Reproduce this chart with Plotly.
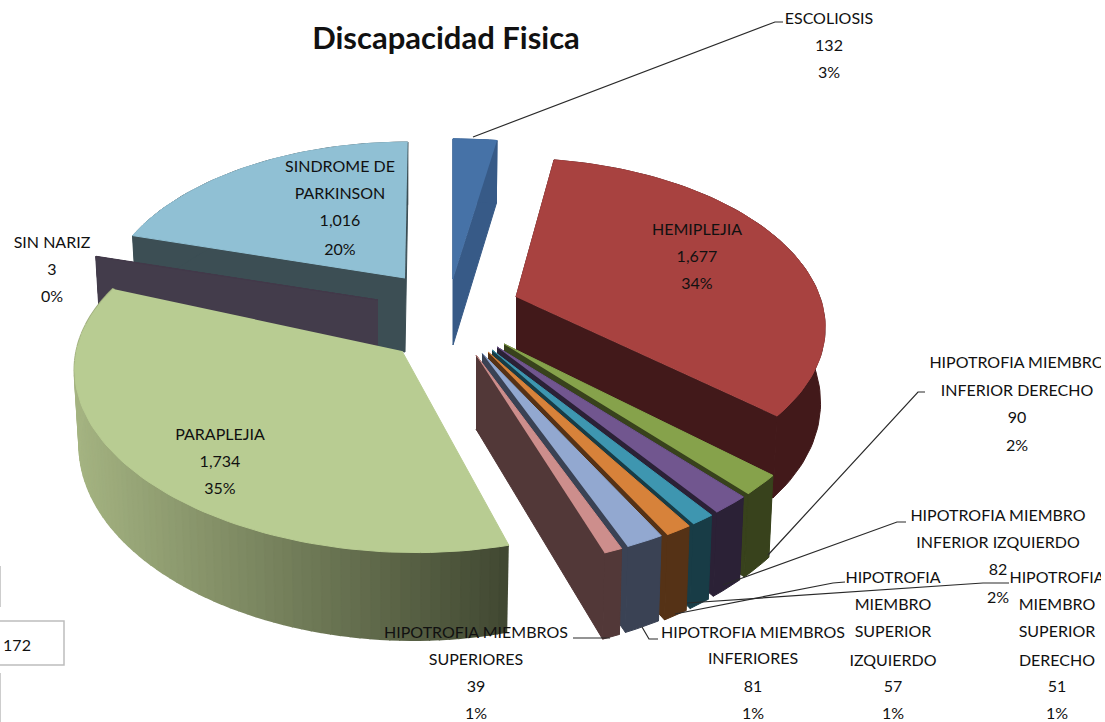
import math
import plotly.graph_objects as go

# ---- data ----
categories = ["ESCOLIOSIS", "HEMIPLEJIA", "HIPOTROFIA MIEMBRO INFERIOR DERECHO",
              "HIPOTROFIA MIEMBRO INFERIOR IZQUIERDO", "HIPOTROFIA MIEMBRO SUPERIOR DERECHO",
              "HIPOTROFIA MIEMBRO SUPERIOR IZQUIERDO", "HIPOTROFIA MIEMBROS INFERIORES",
              "HIPOTROFIA MIEMBROS SUPERIORES", "PARAPLEJIA", "SIN NARIZ", "SINDROME DE PARKINSON"]
values = [132, 1677, 90, 82, 51, 57, 81, 39, 1734, 3, 1016]
title = "Discapacidad Fisica"

# ---- style / layout of the exploded 3-D pie ----
top_colors = ["#4672A7", "#A84240", "#86A24B", "#71568F", "#3E96B0", "#D7823A",
              "#92A8D0", "#CD8E8C", "#B8CC92", "#43394A", "#90C0D4"]
wall_colors = ["#375A87", "#42191A", "#38421C", "#2B2136", "#183C46", "#553216",
               "#3A4254", "#523838", None, "#433C4B", "#3C4E54"]
apex_x = [453, 516, 504, 497, 492, 488, 482, 476, 402, 378, 405]
apex_y = [279, 297, 344, 347, 350, 352, 353, 355, 351, 300, 278]
scale = [1.0, 0.99, 1.04, 1.05, 1.05, 1.05, 1.05, 1.05, 1.04, 1.0, 0.97]
scale_y = [1.0, 1.0, 1.05, 1.04, 1.04, 1.04, 1.04, 1.04, 0.99, 1.0, 1.0]
shear = [0.0, 0.04, 0, 0, 0, 0, 0, 0, -0.11, 0, -0.02]
shear_y = [0, 0, 0, 0, 0, 0, 0, 0, 0.06, 0, 0]
apex_depth = [66, 74, 74, 74, 74, 74, 74, 74, 74, 74, 74]
draw_order = [0, 10, 9, 1, 8, 2, 3, 4, 5, 6, 7]
A, B, K, DEPTH = 307.0, 163.0, 0.163, 73.0
FONT = "Lato"


def project(theta, i):
    u, v = math.sin(theta), math.cos(theta)
    w = 1 + K * v
    y = -B * v / w * scale[i] * scale_y[i]
    x = A * u / w * scale[i]
    x, y = x + shear[i] * y, y + shear_y[i] * x
    return apex_x[i] + x, apex_y[i] + y, DEPTH / w


def poly(xs, ys, color, name, lw=1.0):
    return go.Scatter(x=xs, y=ys, mode="lines", fill="toself", fillcolor=color,
                      line=dict(color=color, width=lw), hoverinfo="skip", name=name)


total = sum(values)
starts = [sum(values[:i]) / total * 2 * math.pi for i in range(len(values))]
ends = [sum(values[:i + 1]) / total * 2 * math.pi for i in range(len(values))]

fig = go.Figure()
for i in draw_order:
    n = max(2, int((ends[i] - starts[i]) / math.radians(1.5)) + 1)
    arc = [project(starts[i] + (ends[i] - starts[i]) * k / (n - 1), i) for k in range(n)]
    ax, ay = apex_x[i], apex_y[i]
    ab = ay + apex_depth[i]
    top_x = [p[0] for p in arc]
    top_y = [p[1] for p in arc]
    bot_x = [ax + (p[0] - ax) * 0.985 for p in arc]
    bot_y = [p[1] + p[2] for p in arc]
    name = categories[i]
    wc = wall_colors[i]
    if wc:
        # radial walls, then the outer wall
        fig.add_trace(poly([ax, top_x[0], bot_x[0], ax], [ay, top_y[0], bot_y[0], ab], wc, name))
        fig.add_trace(poly([ax, top_x[-1], bot_x[-1], ax], [ay, top_y[-1], bot_y[-1], ab], wc, name))
        fig.add_trace(poly(top_x + bot_x[::-1], top_y + bot_y[::-1], wc, name))
    else:
        # outer wall shaded left to right
        for k in range(n - 1):
            t = min(1, max(0, ((top_x[k] + top_x[k + 1]) / 2 - 75) / 433))
            c = "rgb(%d,%d,%d)" % (165 - 100 * t, 180 - 108 * t, 130 - 80 * t)
            fig.add_trace(poly([top_x[k], top_x[k + 1], bot_x[k + 1], bot_x[k]],
                               [top_y[k], top_y[k + 1], bot_y[k + 1], bot_y[k]], c, name, lw=2.5))
    fig.add_trace(poly([ax] + top_x, [ay] + top_y, top_colors[i], name))

# ---- leader lines ----
leaders = [
    ([473, 775, 783], [137, 22, 22]),
    ([925, 918, 768], [392, 392, 555]),
    ([906, 897, 723], [522, 522, 585]),
    ([845, 833, 675], [582, 583, 614]),
    ([1009, 983, 687], [583, 583, 603]),
    ([658, 649, 642], [639, 639, 627]),
    ([573, 610], [638, 638]),
]
for lx, ly in leaders:
    fig.add_trace(go.Scatter(x=lx, y=ly, mode="lines", line=dict(color="#2a2a2a", width=1.2),
                             hoverinfo="skip"))

# ---- labels ----
label_text = [
    "ESCOLIOSIS", "132", "3%",
    "HEMIPLEJIA", "1,677", "34%",
    "HIPOTROFIA MIEMBRO", "INFERIOR DERECHO", "90", "2%",
    "HIPOTROFIA MIEMBRO", "INFERIOR IZQUIERDO", "82", "2%",
    "HIPOTROFIA", "MIEMBRO", "SUPERIOR", "IZQUIERDO", "57", "1%",
    "HIPOTROFIA", "MIEMBRO", "SUPERIOR", "DERECHO", "51", "1%",
    "HIPOTROFIA MIEMBROS", "INFERIORES", "81", "1%",
    "HIPOTROFIA MIEMBROS", "SUPERIORES", "39", "1%",
    "PARAPLEJIA", "1,734", "35%",
    "SIN NARIZ", "3", "0%",
    "SINDROME DE", "PARKINSON", "1,016", "20%",
    "172",
]
label_x = [829] * 3 + [697] * 3 + [1017] * 4 + [998] * 4 + [893] * 6 + [1057] * 6 + \
          [753] * 4 + [476] * 4 + [220] * 3 + [52] * 3 + [340] * 4 + [17]
label_y = [20, 47, 74, 231, 258, 285, 364, 392, 419, 447, 517, 544, 571, 599,
           579, 606, 633, 662, 688, 715, 579, 606, 633, 662, 688, 715,
           634, 660, 688, 715, 634, 661, 688, 715, 436, 463, 490, 244, 271, 298,
           168, 195, 222, 251, 647]
fig.add_trace(go.Scatter(x=label_x, y=label_y, text=label_text, mode="text",
                         textposition="middle center", hoverinfo="skip", cliponaxis=True,
                         textfont=dict(family=FONT, size=16, color="#111111")))

shapes = [
    dict(type="rect", x0=-5, x1=64, y0=621, y1=665, line=dict(color="#bdbdbd", width=1.5)),
    dict(type="line", x0=0, x1=0, y0=566, y1=607, line=dict(color="#bdbdbd", width=1.5)),
    dict(type="line", x0=0, x1=0, y0=673, y1=722, line=dict(color="#bdbdbd", width=1.5)),
]

fig.update_layout(
    width=1105, height=722, showlegend=False, autosize=False,
    margin=dict(l=0, r=4, t=0, b=0),
    paper_bgcolor="white", plot_bgcolor="white", shapes=shapes,
    title=dict(text="<b>%s</b>" % title, x=446 / 1105, y=1 - 38 / 722, xanchor="center", yanchor="middle",
               font=dict(family=FONT, size=31, color="#111111")),
    xaxis=dict(range=[0, 1101], visible=False, fixedrange=True),
    yaxis=dict(range=[722, 0], visible=False, fixedrange=True),
)
fig.write_html("out.html", config=dict(displayModeBar=False),
               post_script="document.body.style.margin='0';document.body.style.overflow='hidden';")
